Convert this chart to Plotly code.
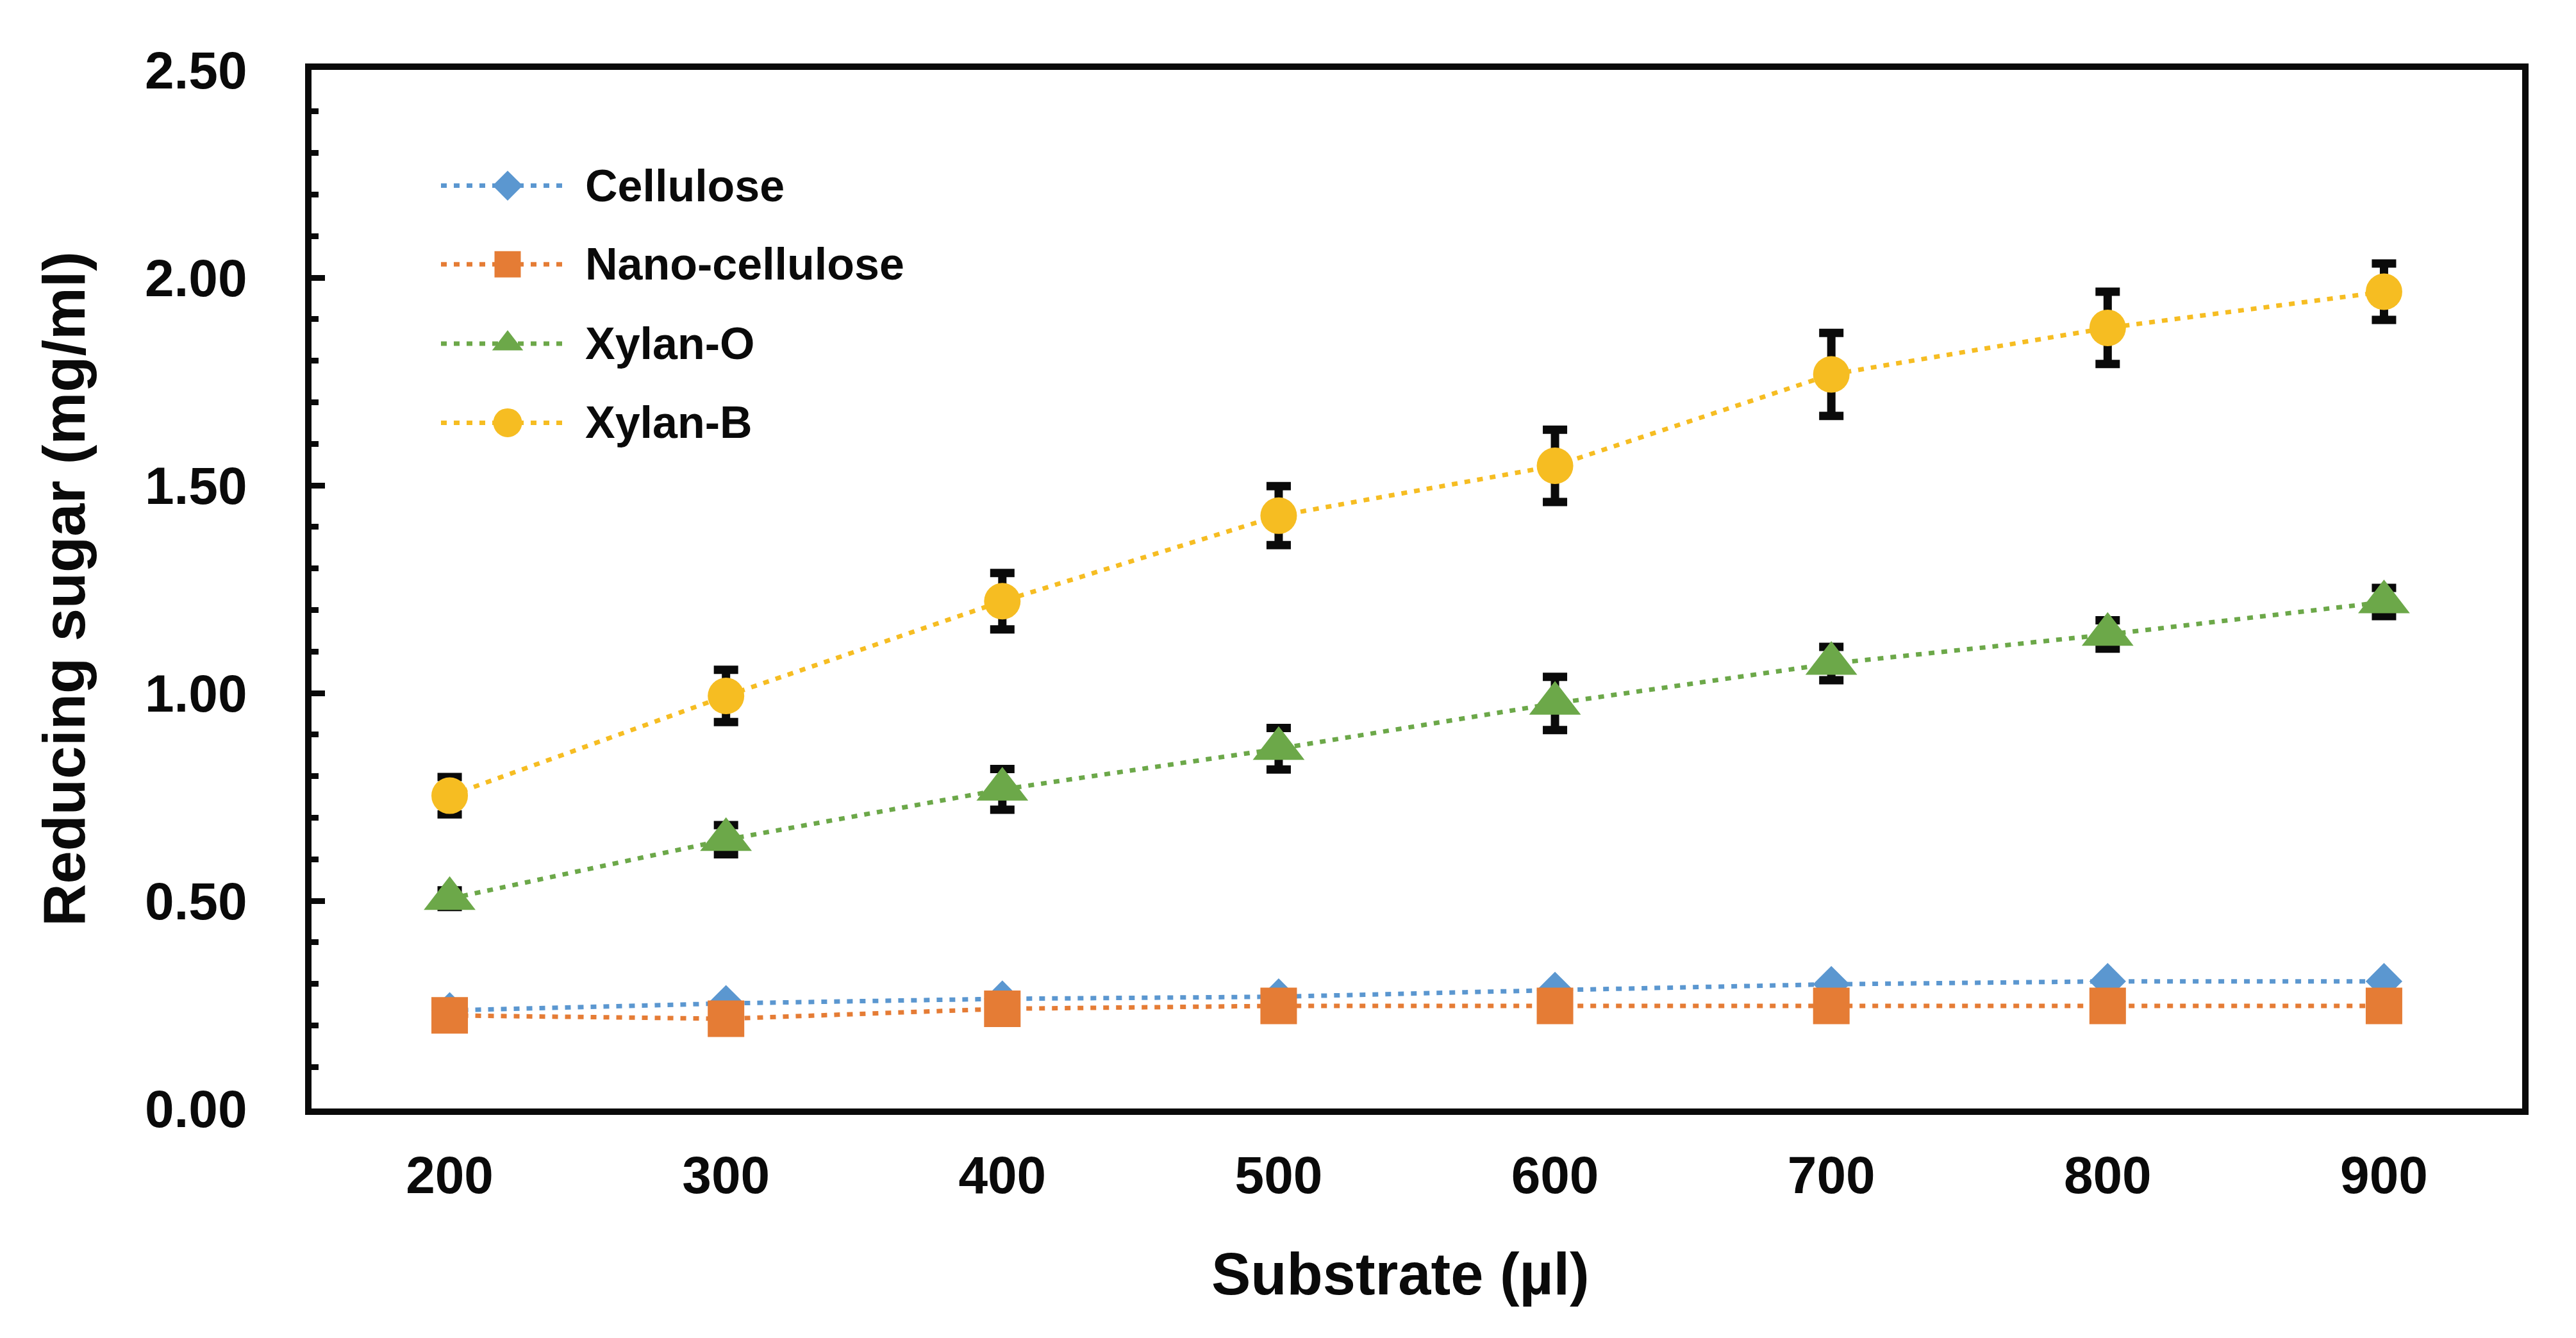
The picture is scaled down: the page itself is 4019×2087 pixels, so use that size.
import plotly.graph_objects as go

# ---------------- data ----------------
substrate = ["200", "300", "400", "500", "600", "700", "800", "900"]
series_names = ["Cellulose", "Nano-cellulose", "Xylan-O", "Xylan-B"]
cellulose = [0.236, 0.253, 0.264, 0.269, 0.285, 0.299, 0.306, 0.306]
nano_cellulose = [0.224, 0.216, 0.240, 0.247, 0.247, 0.247, 0.247, 0.247]
xylan_o = [0.505, 0.647, 0.768, 0.866, 0.975, 1.071, 1.141, 1.219]
xylan_o_err = [0.020, 0.035, 0.049, 0.050, 0.064, 0.040, 0.034, 0.034]
xylan_b = [0.753, 0.993, 1.221, 1.427, 1.547, 1.767, 1.879, 1.966]
xylan_b_err = [0.045, 0.063, 0.068, 0.071, 0.087, 0.100, 0.087, 0.068]
y_ticks = [0.0, 0.5, 1.0, 1.5, 2.0, 2.5]

values = [cellulose, nano_cellulose, xylan_o, xylan_b]
errors = [None, None, xylan_o_err, xylan_b_err]

# ---------------- styles ----------------
colors = ["#5B97D0", "#E57C35", "#6CA849", "#F6BD22"]
symbols = ["diamond", "square", "triangle-up", "circle"]
marker_sizes = [44, 57, 70, 57]
legend_marker_sizes = [36, 41, 42, 45]
FONT = "Arial, Liberation Sans, sans-serif"
DASH = "9px,11px"

W, H = 4019, 2087
OFF = 8  # page body margin offset
# plot-area edges in page pixels
PX0, PX1, PY0, PY1 = 486, 3935, 109, 1729
L, R, T, B = PX0 - OFF, W - PX1 + OFF, PY0 - OFF, H - PY1 + OFF

fig = go.Figure()

for name, vals, err, col, sym, ms in zip(series_names, values, errors, colors, symbols, marker_sizes):
    ey = None
    if err is not None:
        ey = dict(type="data", array=err, visible=True, color="#0a0a0a", thickness=13, width=19)
    fig.add_trace(go.Scatter(
        x=substrate, y=vals, name=name, mode="lines+markers",
        line=dict(color=col, width=7, dash=DASH),
        marker=dict(symbol=sym, size=ms, color=col, line=dict(width=0)),
        error_y=ey, showlegend=False, xaxis="x", yaxis="y",
    ))

# ---------------- custom legend (overlay axis in page-pixel units) ----------------
leg_x0, leg_xm, leg_x1 = 688, 792, 885
leg_rows = [289.6, 412.3, 536.0, 659.4]
leg_text_x = 911
annotations = []
for name, col, sym, lms, ly in zip(series_names, colors, symbols, legend_marker_sizes, leg_rows):
    fig.add_trace(go.Scatter(
        x=[leg_x0, leg_x1], y=[ly, ly], mode="lines",
        line=dict(color=col, width=7, dash=DASH),
        showlegend=False, hoverinfo="skip", xaxis="x2", yaxis="y2",
    ))
    fig.add_trace(go.Scatter(
        x=[leg_xm], y=[ly], mode="markers",
        marker=dict(symbol=sym, size=lms, color=col, opacity=1, line=dict(width=0)),
        showlegend=False, hoverinfo="skip", xaxis="x2", yaxis="y2",
    ))
    annotations.append(dict(
        x=leg_text_x, y=ly, xref="x2", yref="y2", text=name, showarrow=False,
        xanchor="left", yanchor="middle",
        font=dict(family=FONT, size=70, color="#0a0a0a", weight="bold"),
    ))

plot_w = PX1 - PX0
plot_h = PY1 - PY0
annotations.append(dict(
    x=(2185 - PX0) / plot_w, y=(PY1 - 1987) / plot_h, xref="paper", yref="paper",
    text="Substrate (µl)", showarrow=False, xanchor="center", yanchor="middle",
    font=dict(family=FONT, size=92, color="#0a0a0a", weight="bold"),
))
annotations.append(dict(
    x=(100 - PX0) / plot_w, y=0.5, xref="paper", yref="paper",
    text="Reducing sugar (mg/ml)", showarrow=False, textangle=-90,
    xanchor="center", yanchor="middle",
    font=dict(family=FONT, size=92, color="#0a0a0a", weight="bold"),
))

fig.update_layout(
    width=W, height=H, autosize=False,
    margin=dict(l=L, r=R, t=T, b=B, pad=0),
    paper_bgcolor="white", plot_bgcolor="white",
    showlegend=False,
    font=dict(family=FONT, color="#0a0a0a"),
    xaxis=dict(
        type="category", categoryorder="array", categoryarray=substrate,
        range=[-0.5, 7.5], showline=True, linewidth=10, linecolor="#0a0a0a",
        mirror=True, ticks="", showgrid=False, zeroline=False,
        tickfont=dict(family=FONT, size=82, color="#0a0a0a", weight="bold"),
        ticklabelstandoff=24, fixedrange=True,
    ),
    yaxis=dict(
        range=[0, 2.5], tickmode="array", tickvals=y_ticks, tickformat=".2f",
        ticks="inside", ticklen=21, tickwidth=9, tickcolor="#0a0a0a",
        minor=dict(tick0=0, dtick=0.1, ticks="inside", ticklen=11, tickwidth=9, tickcolor="#0a0a0a"),
        showline=True, linewidth=10, linecolor="#0a0a0a", mirror=True,
        showgrid=False, zeroline=False,
        tickfont=dict(family=FONT, size=82, color="#0a0a0a", weight="bold"),
        ticklabelstandoff=74, fixedrange=True,
    ),
    xaxis2=dict(overlaying="x", anchor="y2", range=[PX0, PX1], visible=False, fixedrange=True),
    yaxis2=dict(overlaying="y", anchor="x2", range=[PY1, PY0], visible=False, fixedrange=True),
    annotations=annotations,
)

fig.write_html("out.html")
